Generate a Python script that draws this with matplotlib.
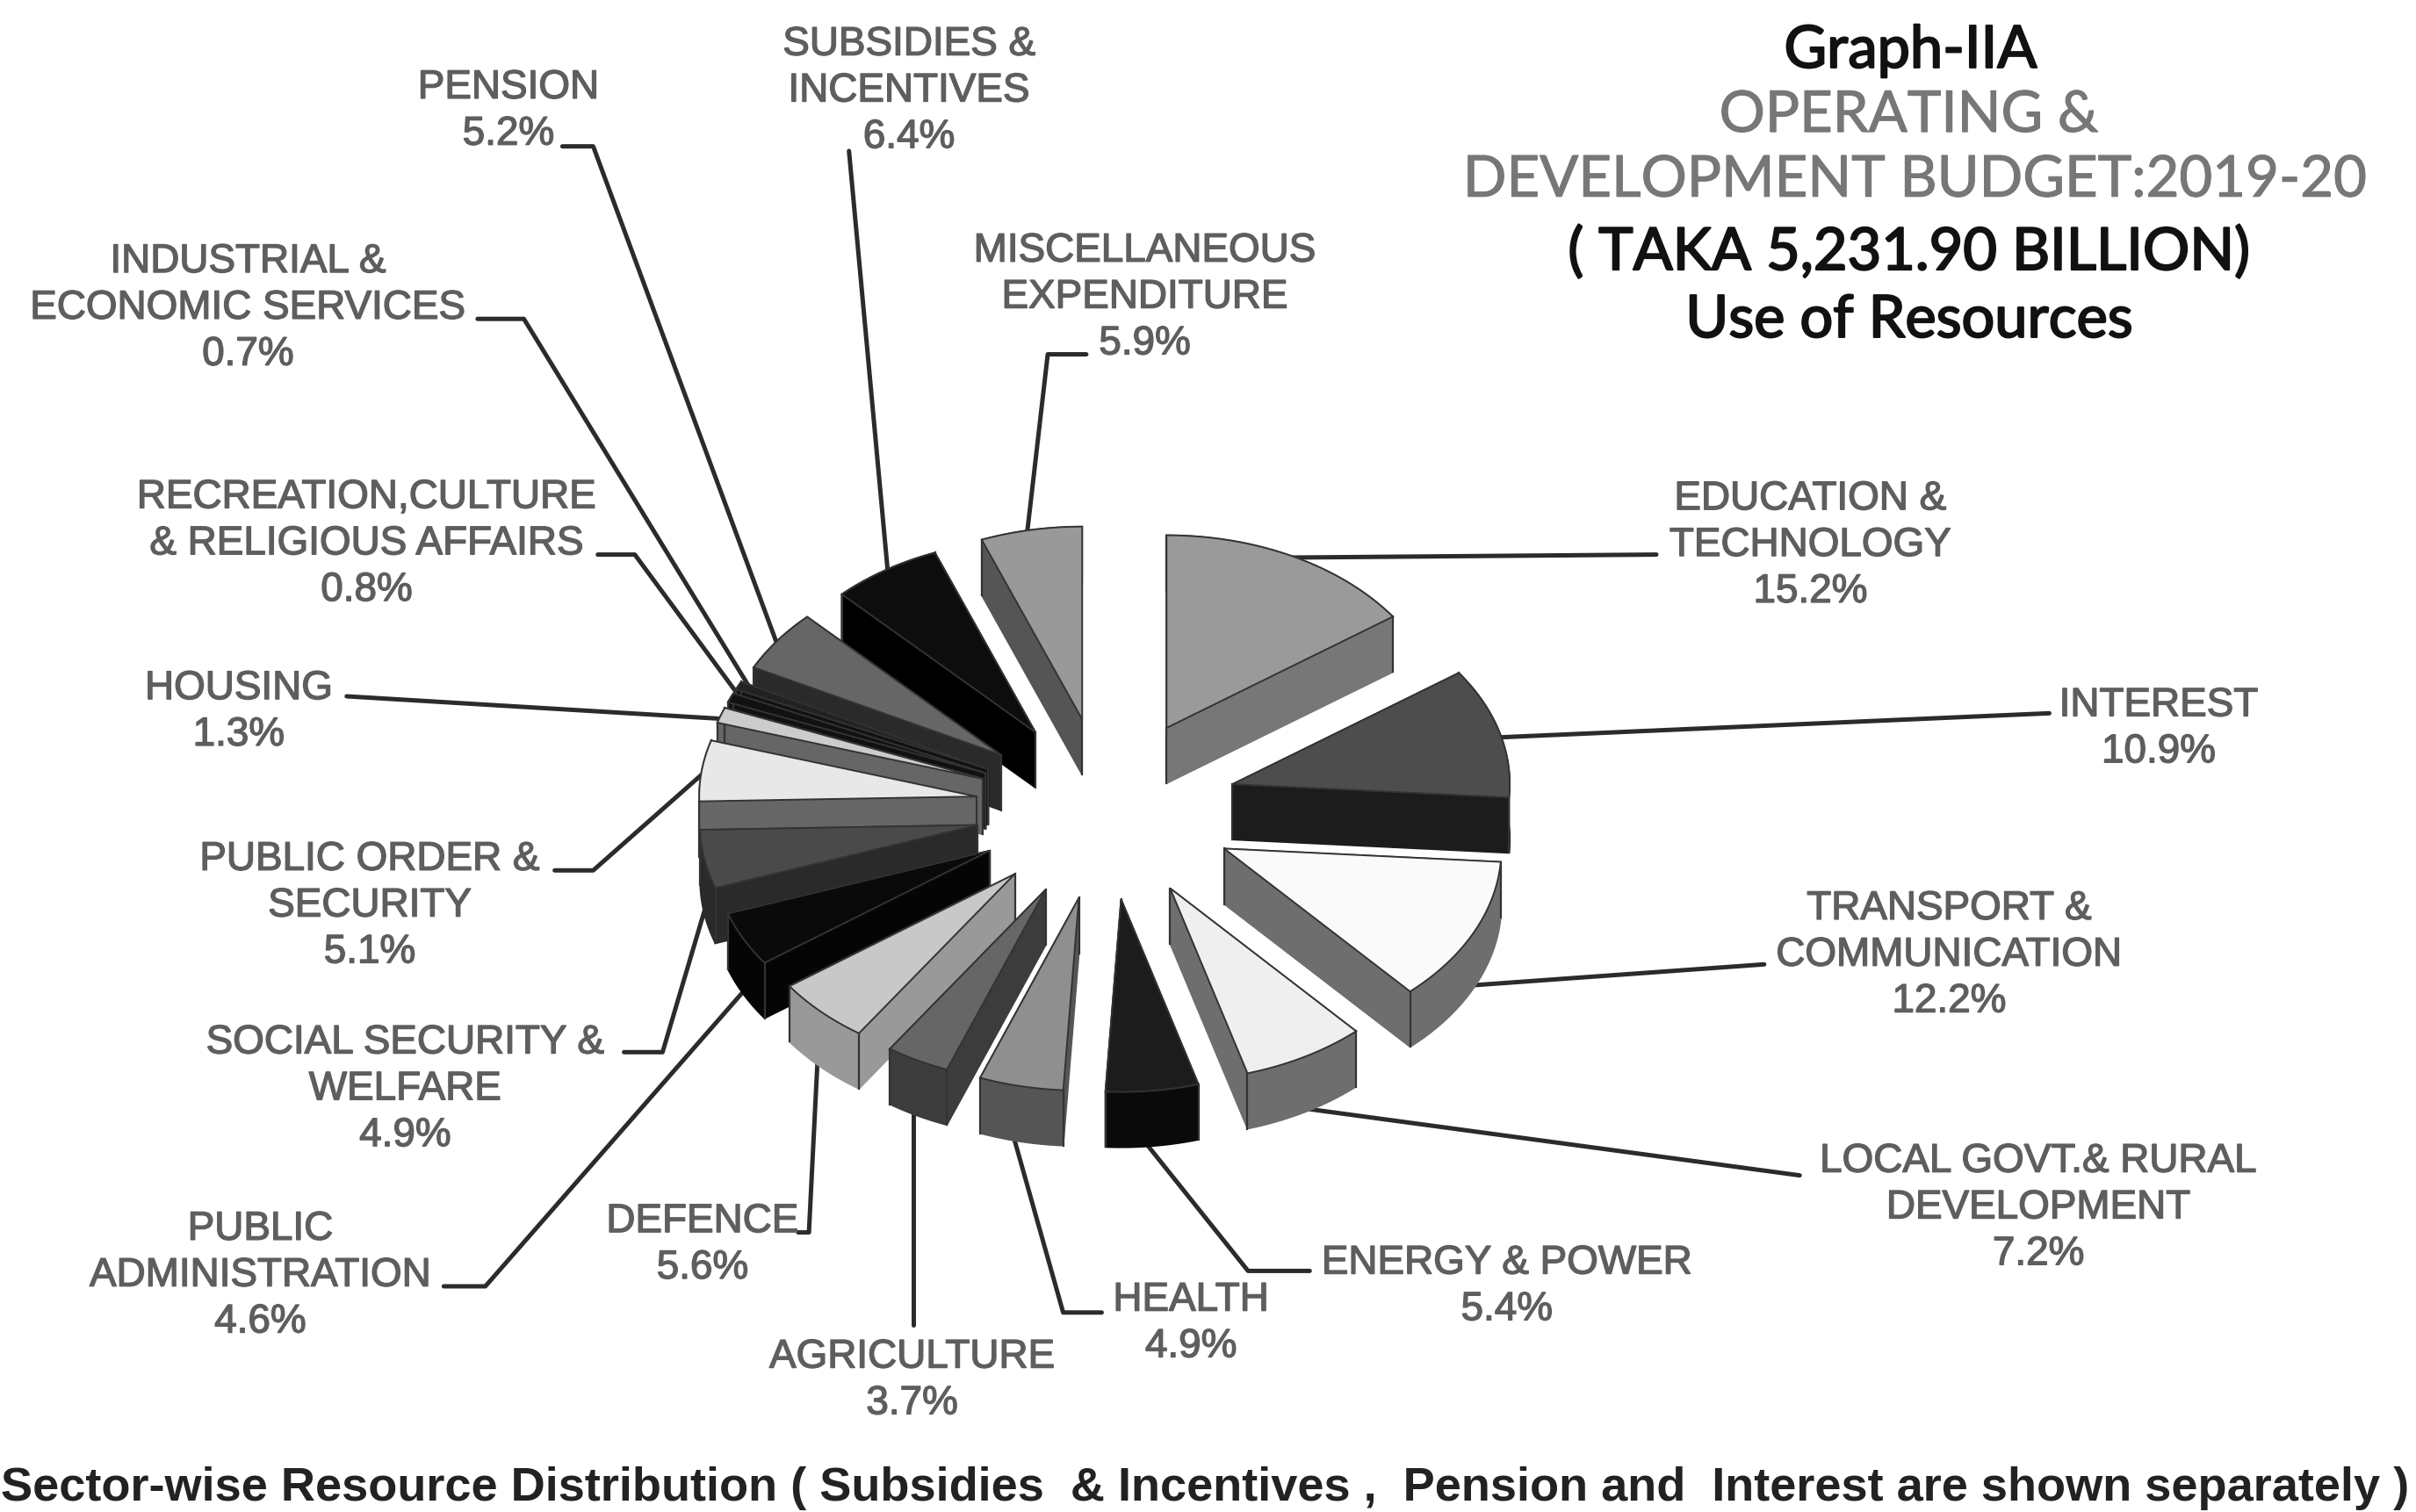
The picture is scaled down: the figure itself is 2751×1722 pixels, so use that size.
import numpy as np
import matplotlib
matplotlib.use("Agg")
import matplotlib.pyplot as plt
import matplotlib.patheffects as pe
from matplotlib.patches import Polygon

# clockwise from 12 o'clock
sectors = ["EDUCATION &\nTECHNOLOGY", "INTEREST", "TRANSPORT &\nCOMMUNICATION",
           "LOCAL GOVT.& RURAL\nDEVELOPMENT", "ENERGY & POWER", "HEALTH", "AGRICULTURE",
           "DEFENCE", "PUBLIC\nADMINISTRATION", "SOCIAL SECURITY &\nWELFARE",
           "PUBLIC ORDER &\nSECURITY", "HOUSING", "RECREATION,CULTURE\n& RELIGIOUS AFFAIRS",
           "INDUSTRIAL &\nECONOMIC SERVICES", "PENSION", "SUBSIDIES &\nINCENTIVES",
           "MISCELLANEOUS\nEXPENDITURE"]
shares = [15.2, 10.9, 12.2, 7.2, 5.4, 4.9, 3.7, 5.6, 4.6, 4.9, 5.1, 1.3, 0.8, 0.7, 5.2, 6.4, 5.9]

top_colors = ["#9a9a9a", "#4d4d4d", "#fafafa", "#efefef", "#1c1c1c", "#8f8f8f", "#666666",
              "#c8c8c8", "#0a0a0a", "#4a4a4a", "#e8e8e8", "#cccccc", "#111111",
              "#222222", "#666666", "#0d0d0d", "#999999"]
side_colors = ["#777777", "#1c1c1c", "#6e6e6e", "#6e6e6e", "#0a0a0a", "#555555", "#3c3c3c",
               "#999999", "#050505", "#2a2a2a", "#666666", "#666666", "#111111",
               "#111111", "#2a2a2a", "#000000", "#555555"]

# label centres, same order as sectors
label_x = [1175, 1401, 1265, 1323, 978, 773, 592, 456, 169, 263, 240, 155, 238, 161, 330, 590, 743]
label_y = [354, 473, 620, 784, 835, 859, 896, 808, 828, 707, 588, 462, 353, 200, 72, 59, 193]

# leader lines
leaders = [
    [(830, 362), (1075, 360)],
    [(965, 479), (1330, 463)],
    [(950, 640), (1145, 626)],
    [(835, 718), (1168, 763)],
    [(738, 735), (810, 825), (850, 825)],
    [(657, 735), (690, 852), (715, 852)],
    [(593, 715), (593, 860)],
    [(531, 680), (525, 800), (518, 800)],
    [(490, 635), (315, 835), (288, 835)],
    [(462, 575), (430, 683), (405, 683)],
    [(462, 497), (385, 565), (360, 565)],
    [(475, 467), (225, 452)],
    [(482, 455), (412, 360), (388, 360)],
    [(490, 452), (340, 207), (310, 207)],
    [(508, 428), (385, 95), (365, 95)],
    [(577, 380), (551, 98)],
    [(665, 360), (680, 230), (705, 230)],
]

cx, cy = 718, 525
radius = 180
squash = 0.695
depth = 36
explode = 85

LINE = "#2b2b2b"
GREY = "#5e5e5e"

fig = plt.figure(figsize=(27.51, 17.22), dpi=100)
ax = fig.add_axes([0, 0, 1, 1])
ax.set_xlim(0, 1568)
ax.set_ylim(981.5, 0)
ax.axis("off")

for pts in leaders:
    xs, ys = zip(*pts)
    ax.plot(xs, ys, color=LINE, lw=3.6, solid_capstyle="round", zorder=1)

# slices
total = sum(shares)
edges = np.cumsum([0] + shares) / total * 2 * np.pi
slices = []
for i in range(len(shares)):
    a0, a1 = edges[i], edges[i + 1]
    mid = (a0 + a1) / 2
    ox = cx + explode * np.sin(mid)
    oy = cy - explode * np.cos(mid) * squash
    t = np.linspace(a0, a1, 60)
    rim = np.column_stack([ox + radius * np.sin(t), oy - radius * np.cos(t) * squash])
    slices.append((oy - radius * squash * np.cos(mid), i, ox, oy, rim))

for key, i, ox, oy, rim in sorted(slices, key=lambda s: s[0]):
    z = 5 + 0.01 * key
    apex = np.array([ox, oy])
    shift = np.array([0, depth])
    wall1 = [apex, rim[0], rim[0] + shift, apex + shift]
    wall2 = [apex, rim[-1], rim[-1] + shift, apex + shift]
    strip = np.vstack([rim, (rim + shift)[::-1]])
    for poly in (wall1, wall2, strip):
        ax.add_patch(Polygon(poly, closed=True, fc=side_colors[i], ec=side_colors[i], lw=1.2, zorder=z))
    # visible upright edges
    for p in (rim[0], rim[-1], apex):
        ax.plot([p[0], p[0]], [p[1], p[1] + depth], color="#333333", lw=1.6, zorder=z + 0.0005)
    top = np.vstack([apex, rim])
    ax.add_patch(Polygon(top, closed=True, fc=top_colors[i], ec="#333333", lw=1.4, zorder=z + 0.001))

heavy = [pe.withStroke(linewidth=1.0, foreground=GREY)]

# labels
for name, share, x, y in zip(sectors, shares, label_x, label_y):
    ax.text(x, y, f"{name}\n{share}%", ha="center", va="center", fontsize=33, color=GREY,
            family="Liberation Sans", linespacing=1.26, zorder=20, path_effects=heavy)

# title block
dark = [pe.withStroke(linewidth=1.5, foreground="#111111")]
soft = [pe.withStroke(linewidth=0.8, foreground="#777777")]
ax.text(1240, 33, "Graph-IIA", ha="center", va="center", fontsize=48, color="#111111", family="Lato", path_effects=dark)
ax.text(1239, 75, "OPERATING &", ha="center", va="center", fontsize=47, color="#777777", family="Lato", path_effects=soft)
ax.text(1243, 117, "DEVELOPMENT BUDGET:2019-20", ha="center", va="center", fontsize=47, color="#777777", family="Lato", path_effects=soft)
ax.text(1239, 164, "( TAKA 5,231.90 BILLION)", ha="center", va="center", fontsize=48, color="#111111", family="Lato", path_effects=dark)
ax.text(1239, 208, "Use of Resources", ha="center", va="center", fontsize=48, color="#111111", family="Lato", path_effects=dark)

ax.text(782, 966, "Sector-wise Resource Distribution ( Subsidies  & Incentives ,  Pension and  Interest are shown separately )",
        ha="center", va="center", fontsize=39, color="#222222", family="Liberation Sans", fontweight="bold", clip_on=True)

fig.savefig("out.png", dpi=100, facecolor="white")
